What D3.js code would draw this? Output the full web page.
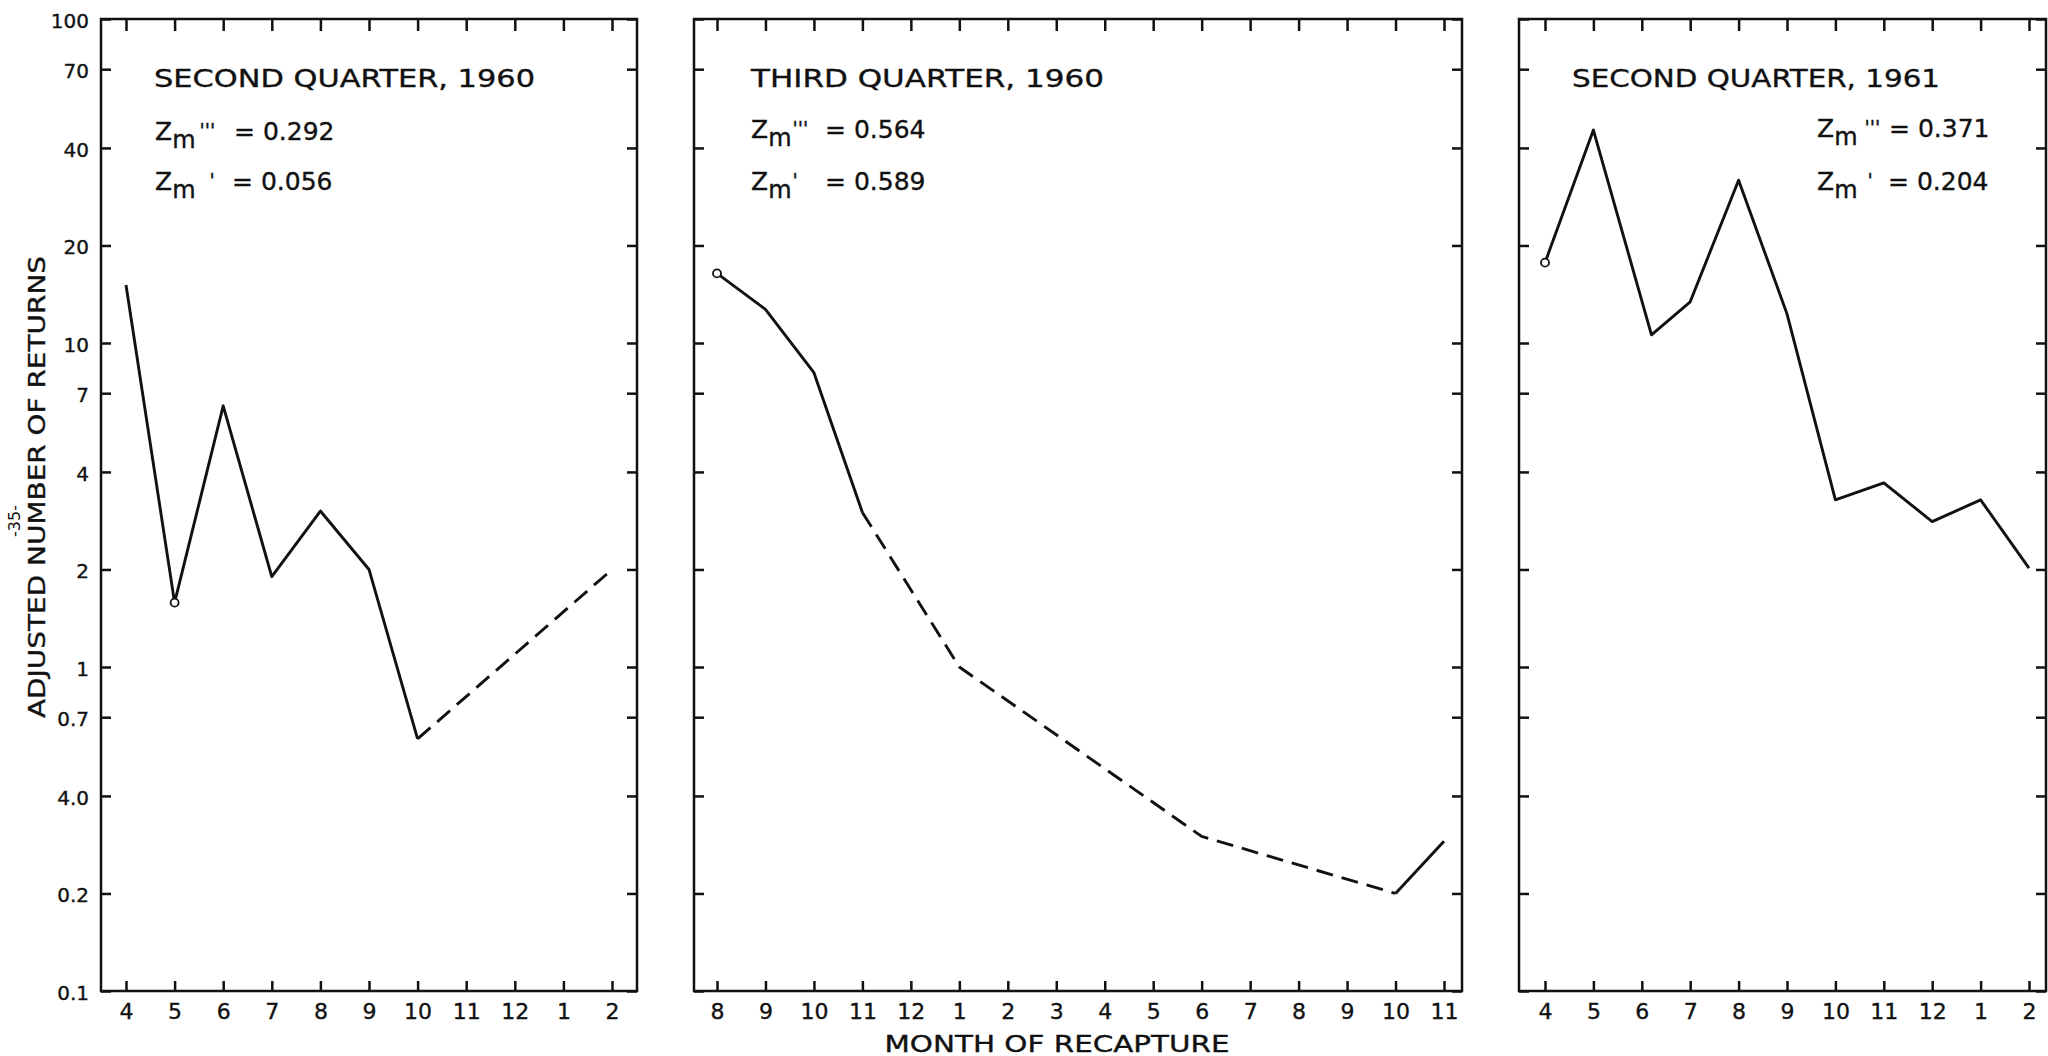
<!DOCTYPE html>
<html>
<head>
<meta charset="utf-8">
<script src="https://cdn.jsdelivr.net/npm/d3@7"></script>
<style>
  body { margin: 0; background: #fff; }
  svg { display: block; }
  text { font-family: "DejaVu Sans", sans-serif; fill: #111; }
  .label { stroke: #111; stroke-width: 0.35; }
</style>
</head>
<body>
<svg id="chart" width="2048" height="1056"></svg>
<script>
// Data
var yTicks = [0.1, 0.2, 0.4, 0.7, 1, 2, 4, 7, 10, 20, 40, 70, 100];
var yTickLabels = ["0.1", "0.2", "4.0", "0.7", "1", "2", "4", "7", "10", "20", "40", "70", "100"]; // "4.0" is printed that way

var p1Months = ["4", "5", "6", "7", "8", "9", "10", "11", "12", "1", "2"];
var p1X = [0, 1, 2, 3, 4, 5, 6, 10];
var p1Values = [15.1, 1.58, 6.4, 1.9, 3.03, 2.0, 0.6, 2.0];
var p1Dashed = [0, 0, 0, 0, 0, 0, 1];

var p2Months = ["8", "9", "10", "11", "12", "1", "2", "3", "4", "5", "6", "7", "8", "9", "10", "11"];
var p2X = [0, 1, 2, 3, 5, 10, 14, 15];
var p2Values = [16.4, 12.7, 8.1, 3.0, 1.0, 0.3, 0.2, 0.29];
var p2Dashed = [0, 0, 0, 1, 1, 1, 0];

var p3Months = ["4", "5", "6", "7", "8", "9", "10", "11", "12", "1", "2"];
var p3X = [0, 1, 2.2, 3, 4, 5, 6, 7, 8, 9, 10];
var p3Values = [17.7, 45.4, 10.6, 13.4, 31.8, 12.3, 3.28, 3.7, 2.81, 3.28, 2.02];
var p3Dashed = [0, 0, 0, 0, 0, 0, 0, 0, 0, 0];

var titles = ["SECOND  QUARTER,  1960", "THIRD  QUARTER,  1960", "SECOND  QUARTER,  1961"];
var zTriple = ["0.292", "0.564", "0.371"];
var zSingle = ["0.056", "0.589", "0.204"];

// Layout
var plotTop = 19, plotBottom = 991;
var ink = "#111";

var panels = [
  {left: 101, right: 637, first: 126, last: 612, months: p1Months, xs: p1X, vals: p1Values, dashed: p1Dashed, circle: 1, yLabels: true,
   title: {x: 154, w: 381}, z: {x: 155, d3: 4, d1: 14, eq1: 79, eq2: 77, b1: 140}},
  {left: 694, right: 1462, first: 717, last: 1444, months: p2Months, xs: p2X, vals: p2Values, dashed: p2Dashed, circle: 0, yLabels: false,
   title: {x: 751, w: 353}, z: {x: 751, d3: 1, d1: 1, eq1: 74, eq2: 74, b1: 138}},
  {left: 1519, right: 2046, first: 1545, last: 2029, months: p3Months, xs: p3X, vals: p3Values, dashed: p3Dashed, circle: 0, yLabels: false,
   title: {x: 1572, w: 368}, z: {x: 1817, d3: 7, d1: 10, eq1: 72, eq2: 71, b1: 137}}
];

var svg = d3.select('#chart');
var y = d3.scaleLog().domain([0.1, 100]).range([plotBottom, plotTop]);

function styleAxis(sel, fontSize) {
  sel.select('.domain').remove();
  sel.attr('font-family', null).attr('font-size', fontSize);
  sel.selectAll('.tick line').attr('stroke', ink).attr('stroke-width', 2.5);
  sel.selectAll('.tick text').attr('fill', ink).attr('class', 'label');
}

panels.forEach(function(p, i) {
  var n = p.months.length;
  var x = d3.scaleLinear().domain([0, n - 1]).range([p.first, p.last]);
  var g = svg.append('g').attr('class', 'panel');

  g.append('g')
      .attr('transform', 'translate(0,' + plotBottom + ')')
      .call(d3.axisBottom(x).tickValues(d3.range(n))
        .tickFormat(function(d) { return p.months[d]; })
        .tickSize(-10).tickPadding(12))
      .call(styleAxis, 22);

  g.append('g')
      .attr('transform', 'translate(0,' + plotTop + ')')
      .call(d3.axisTop(x).tickValues(d3.range(n)).tickFormat('').tickSize(-12))
      .call(styleAxis, 10);

  var left = g.append('g')
      .attr('transform', 'translate(' + p.left + ',0)')
      .call(d3.axisLeft(y).tickValues(yTicks)
        .tickFormat(function(d, j) { return p.yLabels ? yTickLabels[j] : ''; })
        .tickSize(-10).tickPadding(12))
      .call(styleAxis, 20);
  left.selectAll('.tick text').attr('dy', '0.42em');

  g.append('g')
      .attr('transform', 'translate(' + p.right + ',0)')
      .call(d3.axisRight(y).tickValues(yTicks).tickFormat('').tickSize(-10))
      .call(styleAxis, 10);

  // frame
  g.append('rect')
      .attr('x', p.left).attr('y', plotTop)
      .attr('width', p.right - p.left).attr('height', plotBottom - plotTop)
      .attr('fill', 'none').attr('stroke', ink).attr('stroke-width', 2.5);

  // data line, split into solid and dashed runs
  var pts = p.xs.map(function(xv, j) { return {x: xv, v: p.vals[j]}; });
  var runs = [];
  p.dashed.forEach(function(flag, j) {
    var last = runs[runs.length - 1];
    if (last && last.dashed === flag) last.pts.push(pts[j + 1]);
    else runs.push({dashed: flag, pts: [pts[j], pts[j + 1]]});
  });

  var line = d3.line()
      .x(function(d) { return x(d.x); })
      .y(function(d) { return y(d.v); });

  g.selectAll('.run')
      .data(runs)
    .enter().append('path')
      .attr('class', 'run')
      .attr('d', function(d) { return line(d.pts); })
      .attr('fill', 'none')
      .attr('stroke', ink)
      .attr('stroke-width', 2.9)
      .attr('stroke-linejoin', 'round')
      .attr('stroke-dasharray', function(d) { return d.dashed ? '17,9' : null; });

  var c = pts[p.circle];
  g.append('circle')
      .attr('cx', x(c.x)).attr('cy', y(c.v)).attr('r', 4)
      .attr('fill', '#fff').attr('stroke', ink).attr('stroke-width', 1.8);

  // panel title and coefficients
  g.append('text')
      .attr('class', 'label')
      .attr('x', p.title.x).attr('y', 87)
      .attr('font-size', 24)
      .attr('textLength', p.title.w).attr('lengthAdjust', 'spacingAndGlyphs')
      .text(titles[i]);

  [[p.z.b1, "'''", p.z.d3, p.z.eq1, zTriple[i]], [190, "'", p.z.d1, p.z.eq2, zSingle[i]]].forEach(function(r) {
    var t = g.append('text').attr('class', 'label')
        .attr('x', p.z.x).attr('y', r[0]).attr('font-size', 25);
    t.append('tspan').text('Z');
    t.append('tspan').attr('dy', 8).attr('font-size', 24).text('m');
    t.append('tspan').attr('dx', r[2]).attr('dy', -11).attr('font-size', 19).text(r[1]);
    t.append('tspan').attr('x', p.z.x + r[3]).attr('y', r[0]).text('= ' + r[4]);
  });
});

// axis titles
svg.append('text')
    .attr('class', 'label')
    .attr('transform', 'translate(45,487) rotate(-90)')
    .attr('text-anchor', 'middle')
    .attr('font-size', 23)
    .attr('textLength', 462).attr('lengthAdjust', 'spacingAndGlyphs')
    .text('ADJUSTED  NUMBER  OF  RETURNS');

svg.append('text')
    .attr('transform', 'translate(20,521) rotate(-90)')
    .attr('text-anchor', 'middle')
    .attr('font-size', 16)
    .text('-35-');

svg.append('text')
    .attr('class', 'label')
    .attr('x', 1057).attr('y', 1052)
    .attr('text-anchor', 'middle')
    .attr('font-size', 23)
    .attr('textLength', 345).attr('lengthAdjust', 'spacingAndGlyphs')
    .text('MONTH  OF  RECAPTURE');
</script>
</body>
</html>
